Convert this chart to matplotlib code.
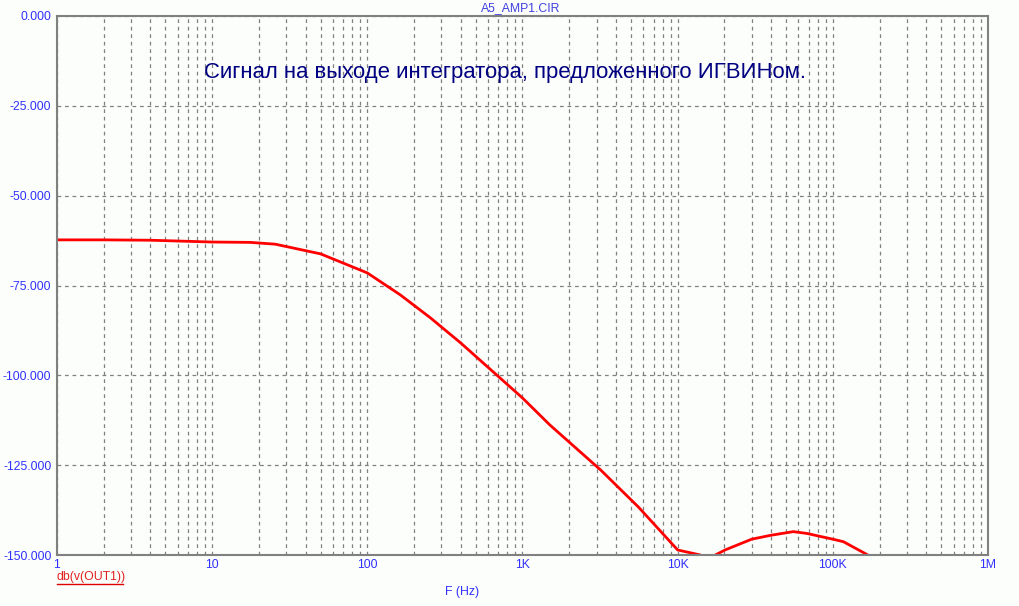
import matplotlib
matplotlib.use('Agg')
import matplotlib.pyplot as plt
from matplotlib.ticker import FixedLocator, LogLocator, NullFormatter
import numpy as np

# Frequency response (F in Hz, dB)
freq = [1, 2, 4, 10, 17.6, 25.5, 50, 100, 163, 255, 400, 1000, 1500,
        3200, 5600, 10000, 14000, 15500, 17500, 20200, 30000, 40000,
        55600, 68000, 100000, 117000, 165000, 200000]
gain_db = [-62.3, -62.3, -62.4, -62.9, -63.0, -63.5, -66.2, -71.5, -77.6,
           -84.0, -91.0, -106.3, -113.8, -126.4, -136.7, -148.6, -150.0,
           -151.0, -150.0, -148.6, -145.6, -144.5, -143.5, -144.0, -145.6,
           -146.3, -149.8, -152.0]

x_ticks = [1, 10, 100, 1e3, 1e4, 1e5, 1e6]
x_labels = ['1', '10', '100', '1K', '10K', '100K', '1M']
y_ticks = [0, -25, -50, -75, -100, -125, -150]

plt.rcParams['font.family'] = ['Liberation Sans', 'DejaVu Sans']

bg = '#fcfefc'
blue = '#3030ff'
fig = plt.figure(figsize=(10.2, 6.06), dpi=100, facecolor=bg)
ax = fig.add_axes([57/1020, 1 - 555/606, 931/1020, 539/606], facecolor=bg)

ax.plot(freq, gain_db, color='#ff0000', linewidth=2)

ax.set_xscale('log')
ax.set_xlim(1, 1e6)
ax.set_ylim(-150, 0)

ax.xaxis.set_major_locator(FixedLocator(x_ticks))
ax.set_xticklabels(x_labels)
ax.xaxis.set_minor_locator(LogLocator(base=10, subs=np.arange(2, 10), numticks=20))
ax.xaxis.set_minor_formatter(NullFormatter())
ax.set_yticks(y_ticks)
ax.set_yticklabels(['%.3f' % v for v in y_ticks])

ax.tick_params(which='both', length=0, colors=blue, labelsize=8.8, pad=4)
ax.tick_params(axis='x', pad=3)

grid_kw = dict(color='#808080', linestyle=(0, (3, 3)), linewidth=0.9)
ax.grid(True, which='major', axis='both', **grid_kw)
ax.grid(True, which='minor', axis='x', **grid_kw)

for s in ax.spines.values():
    s.set_color('#808080')
    s.set_linewidth(1.5)

fig.text(521/1020, 1 - 8/606, 'A5_AMP1.CIR', color='#4040e0', fontsize=8.8,
         ha='center', va='center')
ax.text(0.481, 0.895, 'Сигнал на выходе интегратора, предложенного ИГВИНом.',
        transform=ax.transAxes, color='#000080', fontsize=15.9,
        ha='center', va='center')
fig.text(462/1020, 1 - 592/606, 'F (Hz)', color=blue, fontsize=8.8,
         ha='center', va='center')
fig.text(57/1020, 1 - 577/606, 'db(v(OUT1))', color='#e02020', fontsize=8.8,
         ha='left', va='center')
fig.add_artist(plt.Line2D([57/1020, 123/1020], [1 - 584/606, 1 - 584/606],
                          color='#e00000', linewidth=1))

fig.savefig('out.png', dpi=100, facecolor=bg)
